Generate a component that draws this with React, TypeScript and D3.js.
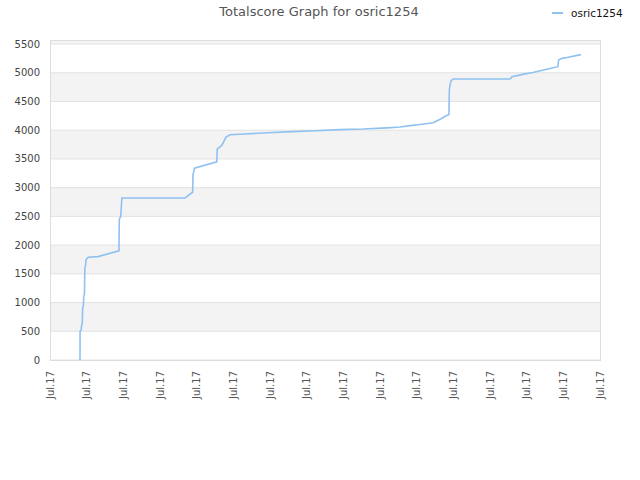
import React from 'react';
import * as d3 from 'd3';

// x in tick-interval units (0..15), y = total score
const scoreX = [
  0.818, 0.82, 0.85, 0.86, 0.88, 0.89, 0.91, 0.92, 0.94, 0.95, 0.97, 0.98, 1.04, 1.31, 1.88,
  1.89, 1.93, 1.96, 3.68, 3.89, 3.9, 3.94, 4.55, 4.56, 4.69, 4.8, 4.91, 5.32, 5.95, 6.6,
  7.23, 7.91, 8.54, 9.19, 9.55, 9.82, 10.09, 10.45, 10.64, 10.83, 10.88, 10.89, 10.91, 10.94,
  10.99, 12.55, 12.6, 12.74, 12.95, 13.17, 13.55, 13.85, 13.87, 13.96, 14.1, 14.48,
];
const scoreY = [
  0, 500, 520, 600, 620, 900, 950, 1100, 1150, 1600, 1650, 1740, 1790, 1800, 1900,
  2450, 2500, 2820, 2820, 2920, 3220, 3340, 3450, 3670, 3740, 3880, 3920, 3935, 3955, 3975,
  3990, 4010, 4020, 4040, 4055, 4080, 4100, 4130, 4190, 4260, 4270, 4700, 4790, 4860,
  4890, 4890, 4930, 4950, 4980, 5005, 5060, 5105, 5220, 5250, 5265, 5315,
];
const yTicks = [0, 500, 1000, 1500, 2000, 2500, 3000, 3500, 4000, 4500, 5000, 5500];
const xTickLabels = [
  'Jul.17', 'Jul.17', 'Jul.17', 'Jul.17', 'Jul.17', 'Jul.17', 'Jul.17', 'Jul.17',
  'Jul.17', 'Jul.17', 'Jul.17', 'Jul.17', 'Jul.17', 'Jul.17', 'Jul.17', 'Jul.17',
];
const seriesName = 'osric1254';
const title = 'Totalscore Graph for osric1254';

const W = 640;
const H = 480;
const left = 50;
const right = 600;
const top = 40;
const bottom = 360;
const lineColor = '#8fc1f1';
const font = 'DejaVu Sans, sans-serif';

export default function App() {
  const x = d3.scaleLinear().domain([0, xTickLabels.length - 1]).range([left, right]);
  const y = d3.scaleLinear().domain([0, 5570]).range([bottom, top]);

  const pts = scoreX.map((v, i) => [v, scoreY[i]] as [number, number]);
  const line = d3.line<[number, number]>()
    .x(d => x(d[0]))
    .y(d => y(d[1]));

  // alternating bands: gray for odd 500-intervals
  const bands = yTicks
    .map((t, i) => ({ lo: t, hi: i + 1 < yTicks.length ? yTicks[i + 1] : 5570, i }))
    .filter(b => b.i % 2 === 1);

  return (
    <div style={{ position: 'absolute', left: 0, top: 0 }}>
      <svg width={W} height={H} style={{ display: 'block', background: '#fff' }}>
        <text x={319} y={16} textAnchor="middle" fontFamily={font} fontSize={13} fill="#555">
          {title}
        </text>

        {/* legend */}
        <line x1={552} x2={563} y1={13} y2={13} stroke={lineColor} strokeWidth={2} />
        <text x={571} y={16.5} fontFamily={font} fontSize={10.5} fill="#111">{seriesName}</text>

        {/* bands */}
        {bands.map(b => (
          <rect key={b.lo} x={left} width={right - left} y={y(b.hi)} height={y(b.lo) - y(b.hi)} fill="#f3f3f3" />
        ))}

        {/* grid */}
        {yTicks.map(t => (
          <line key={t} x1={left} x2={right} y1={y(t)} y2={y(t)} stroke="#e2e2e2" strokeWidth={1} />
        ))}

        {/* frame */}
        <rect x={left + 0.5} y={top + 0.5} width={right - left} height={bottom - top} fill="none" stroke="#dddddd" />

        {/* y labels */}
        {yTicks.map(t => (
          <text key={t} x={40} y={y(t)} dy="0.35em" textAnchor="end" fontFamily={font} fontSize={10} fill="#444">
            {t}
          </text>
        ))}

        {/* x labels */}
        {xTickLabels.map((lab, i) => (
          <text
            key={i}
            transform={`translate(${x(i)},371) rotate(-90)`}
            dy="0.35em"
            textAnchor="end"
            fontFamily={font}
            fontSize={10}
            fill="#555"
          >
            {lab}
          </text>
        ))}

        <path d={line(pts) || ''} fill="none" stroke={lineColor} strokeWidth={1.6} />
      </svg>
    </div>
  );
}
